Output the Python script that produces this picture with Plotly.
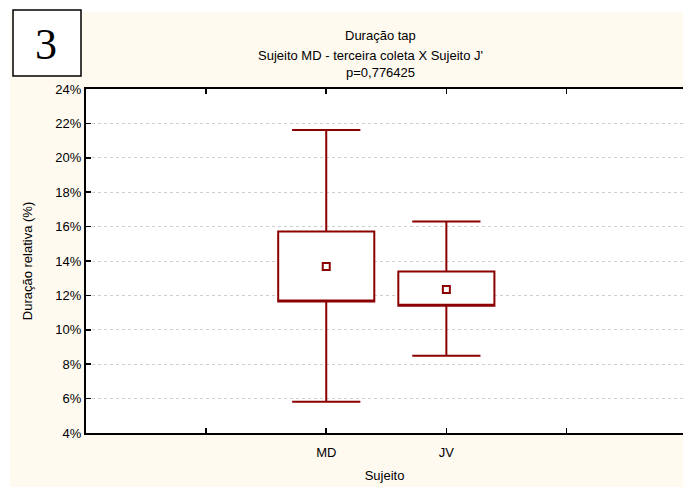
import plotly.graph_objects as go

# ---- data ----
categories = ["MD", "JV"]
cat_pos = [2, 3]
means = [13.68, 12.34]
box_low = [11.64, 11.40]     # mean - SE
box_high = [15.72, 13.39]    # mean + SE
whisk_low = [5.81, 8.49]     # mean - SD
whisk_high = [21.61, 16.30]  # mean + SD
x_tickvals = [1, 2, 3, 4]
x_ticktext = ["", "MD", "JV", ""]
y_ticks = [4, 6, 8, 10, 12, 14, 16, 18, 20, 22, 24]
y_ticktext = [f"{v}%" for v in y_ticks]

W, H = 683, 487
ML, MR, MT, MB = 86, 0, 89, 54
PW, PH = W - ML - MR, H - MT - MB

def px_x(p):
    return (p - ML) / PW

def px_y(p):
    return (H - MB - p) / PH

RED = "#8B0000"
CREAM = "#FFFAF0"

fig = go.Figure()
fig.add_trace(go.Box(
    x=cat_pos, q1=box_low, median=box_low, q3=box_high,
    lowerfence=whisk_low, upperfence=whisk_high,
    width=0.8, whiskerwidth=0.71, fillcolor="white",
    line=dict(color=RED, width=2), boxpoints=False, hoverinfo="skip",
    showlegend=False,
))
fig.add_trace(go.Scatter(
    x=cat_pos, y=means, mode="markers",
    marker=dict(symbol="square-open", size=7, color=RED, line=dict(color=RED, width=2)),
    showlegend=False, hoverinfo="skip",
))

shapes = [
    # white strips outside the cream panel
    dict(type="rect", xref="paper", yref="paper", x0=px_x(-5), x1=px_x(W + 5),
         y0=px_y(12), y1=px_y(-5), fillcolor="white", line=dict(width=0), layer="below"),
    dict(type="rect", xref="paper", yref="paper", x0=px_x(-5), x1=px_x(10),
         y0=px_y(H + 5), y1=px_y(-5), fillcolor="white", line=dict(width=0), layer="below"),
    # panel number box
    dict(type="rect", xref="paper", yref="paper", x0=px_x(13), x1=px_x(81),
         y0=px_y(76), y1=px_y(10), fillcolor="white", line=dict(color="black", width=1.5)),
]

font = dict(family="Liberation Sans, Arial, sans-serif", size=13, color="black")
annotations = [
    dict(text="3", xref="paper", yref="paper", x=px_x(46), y=px_y(44), showarrow=False,
         xanchor="center", yanchor="middle", font=dict(family="Liberation Serif, Times New Roman, serif", size=44, color="black")),
    dict(text="Duração tap", xref="paper", yref="paper", x=px_x(380), y=px_y(36), showarrow=False,
         xanchor="center", yanchor="middle", font=font),
    dict(text="Sujeito MD - terceira coleta X Sujeito J'", xref="paper", yref="paper", x=px_x(370), y=px_y(55), showarrow=False,
         xanchor="center", yanchor="middle", font=font),
    dict(text="p=0,776425", xref="paper", yref="paper", x=px_x(380), y=px_y(73), showarrow=False,
         xanchor="center", yanchor="middle", font=font),
]

fig.update_layout(
    width=W, height=H,
    margin=dict(l=ML, r=MR, t=MT, b=MB, pad=0),
    paper_bgcolor=CREAM, plot_bgcolor="white",
    font=font,
    shapes=shapes, annotations=annotations,
    showlegend=False,
    xaxis=dict(range=[0, 4.97], tickmode="array", tickvals=x_tickvals, ticktext=x_ticktext,
               showline=True, linecolor="black", linewidth=2, mirror="ticks",
               ticks="inside", ticklen=5, tickwidth=1.5, tickcolor="black",
               ticklabelstandoff=6,
               showgrid=False, zeroline=False, automargin=False,
               title=dict(text="Sujeito", font=font, standoff=12),
               tickfont=font, fixedrange=True),
    yaxis=dict(range=[4, 24], tickmode="array", tickvals=y_ticks, ticktext=y_ticktext,
               showline=True, linecolor="black", linewidth=2, mirror=False,
               ticks="inside", ticklen=5, tickwidth=1.5, tickcolor="black",
               ticklabelstandoff=0,
               showgrid=True, gridcolor="#CFCFCF", griddash="dot", gridwidth=1,
               zeroline=False, automargin=False,
               title=dict(text="Duração relativa (%)", font=font, standoff=20),
               tickfont=font, fixedrange=True),
)

fig.write_html("out.html", post_script="document.body.style.margin='0';",
               config={"displayModeBar": False, "staticPlot": True})
